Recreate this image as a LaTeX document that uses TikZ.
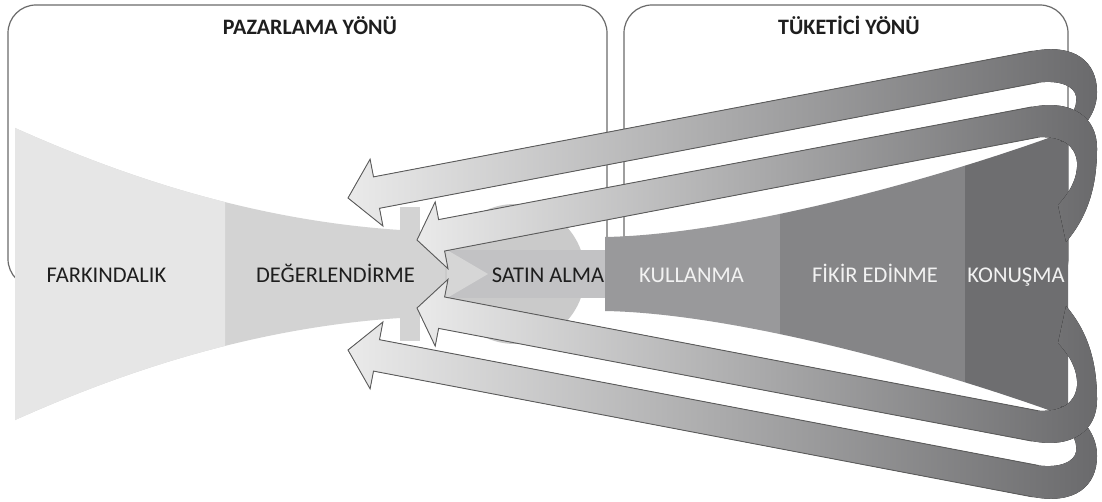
\documentclass[tikz,border=0pt]{standalone}
\usepackage{fontspec}
\setmainfont{Carlito}

\definecolor{frameC}{HTML}{6A6A6A}
\definecolor{awareC}{HTML}{E6E6E6}
\definecolor{evalC}{HTML}{D3D3D3}
\definecolor{buyDisc}{HTML}{CACACA}
\definecolor{buyBand}{HTML}{C2C2C4}
\definecolor{buyTip}{HTML}{D6D6D6}
\definecolor{useC}{HTML}{99999B}
\definecolor{opinC}{HTML}{858587}
\definecolor{talkC}{HTML}{6E6E70}
\definecolor{arrowLight}{HTML}{EAEAEA}
\definecolor{arrowDark}{HTML}{6A6A6C}
\definecolor{arrowEdge}{HTML}{5C5C5C}
\definecolor{darkText}{HTML}{1E1E1E}
\definecolor{lightText}{HTML}{F2F2F2}

% outline of the left funnel (awareness + evaluation)
\newcommand\lfunnel{(15,128) .. controls (120,175) and (250,220) .. (400,230)
  -- (400,318) .. controls (250,328) and (120,373) .. (15,420) -- cycle}
% outline of the right funnel (use, opinion, talk)
\newcommand\rfunnel{(605,237) .. controls (720,235) and (900,190) .. (1040,141)
  -- (1068,131) -- (1068,417) -- (1040,407)
  .. controls (900,358) and (720,313) .. (605,311) -- cycle}

% the two feedback arrows of the upper half
\newcommand\upperarrows{%
  % outer arrow
  \fill[arrowshade] (348,198) -- (370.1,159.2) -- (373.5,176.9) -- (1032.6,51.1)
    .. controls (1075,43) and (1097,62) .. (1097,92)
    .. controls (1097,112) and (1085,130) .. (1062,142)
    -- (1055,132)
    .. controls (1070,120) and (1078,108) .. (1076,96)
    .. controls (1074,86) and (1060,80) .. (1038.6,82.5)
    -- (379.5,208.3) -- (382.9,226) -- cycle;
  \draw[arrowline] (1032.6,51.1) -- (373.5,176.9) -- (370.1,159.2) -- (348,198)
    -- (382.9,226) -- (379.5,208.3) -- (1038.6,82.5);
  % inner arrow
  \fill[arrowshade] (417,240) -- (435.2,201.9) -- (438.6,219.6) -- (1032.1,106.9)
    .. controls (1073,99) and (1097,118) .. (1097,148)
    .. controls (1097,182) and (1090,214) .. (1066,242)
    -- (1058,205)
    .. controls (1070,192) and (1078,178) .. (1077,162)
    .. controls (1075,145) and (1062,136) .. (1037.9,137.3)
    -- (444.6,251) -- (448,268.7) -- cycle;
  \draw[arrowline] (1032.1,106.9) -- (438.6,219.6) -- (435.2,201.9) -- (417,240)
    -- (448,268.7) -- (444.6,251) -- (1037.9,137.3);
}

\begin{document}
\begin{tikzpicture}[x=1pt,y=-1pt,
  frame/.style={draw=frameC, line width=1.2pt, rounded corners=28pt},
  arrowshade/.style={left color=arrowLight, right color=arrowDark},
  arrowline/.style={draw=arrowEdge, line width=0.9pt, line join=miter},
  stage/.style={inner sep=0pt, anchor=base, font=\fontsize{22.5}{27}\selectfont},
  darklabel/.style={stage, text=darkText},
  lightlabel/.style={stage, text=lightText},
  title/.style={inner sep=0pt, anchor=base, text=darkText,
    font=\fontsize{22}{26}\selectfont\bfseries}]

\fill[white] (0,0) rectangle (1102,502);
\useasboundingbox (0,0) rectangle (1102,502);

% the two framed zones
\draw[frame] (8,5) rectangle (607,287);
\draw[frame] (624,5) rectangle (1068,287);
\node[title] (marketing) at (310,35) {PAZARLAMA YÖNÜ};
\node[title] (consumer) at (849,35) {TÜKETİCİ YÖNÜ};

% left funnel: evaluation part, then awareness part
\fill[evalC] \lfunnel;
\begin{scope}
  \clip (0,0) rectangle (225,502);
  \fill[awareC] \lfunnel;
\end{scope}
\fill[evalC] (400,207) rectangle (420,341);
\fill[evalC] (400,225) -- (447,250) -- (488,274) -- (447,298) -- (400,323) -- cycle;

% purchase stage
\fill[buyDisc] (515,274) circle[radius=70pt];
\fill[buyBand] (447,250) rectangle (606,298);
\fill[buyTip] (447,250) -- (488,274) -- (447,298) -- cycle;

% right funnel: use, opinion, talk
\begin{scope}
  \clip (605,0) rectangle (780,502);
  \fill[useC] \rfunnel;
\end{scope}
\begin{scope}
  \clip (780,0) rectangle (965,502);
  \fill[opinC] \rfunnel;
\end{scope}
\begin{scope}
  \clip (965,0) rectangle (1070,502);
  \fill[talkC] \rfunnel;
\end{scope}

% feedback arrows, upper half and its mirror image below
\upperarrows
\begin{scope}[shift={(0,274)}, yscale=-1, shift={(0,-274)}]
  \upperarrows
\end{scope}

% stage labels
\node[darklabel] (aware) at (106.5,282.5) {FARKINDALIK};
\node[darklabel] (evaluate) at (335.5,282.5) {DEĞERLENDİRME};
\node[darklabel] (buy) at (548,283) {SATIN ALMA};
\node[lightlabel] (use) at (691.5,283) {KULLANMA};
\node[lightlabel] (opinion) at (875,283) {FİKİR EDİNME};
\node[lightlabel] (talk) at (1016,283) {KONUŞMA};
\end{tikzpicture}
\end{document}
